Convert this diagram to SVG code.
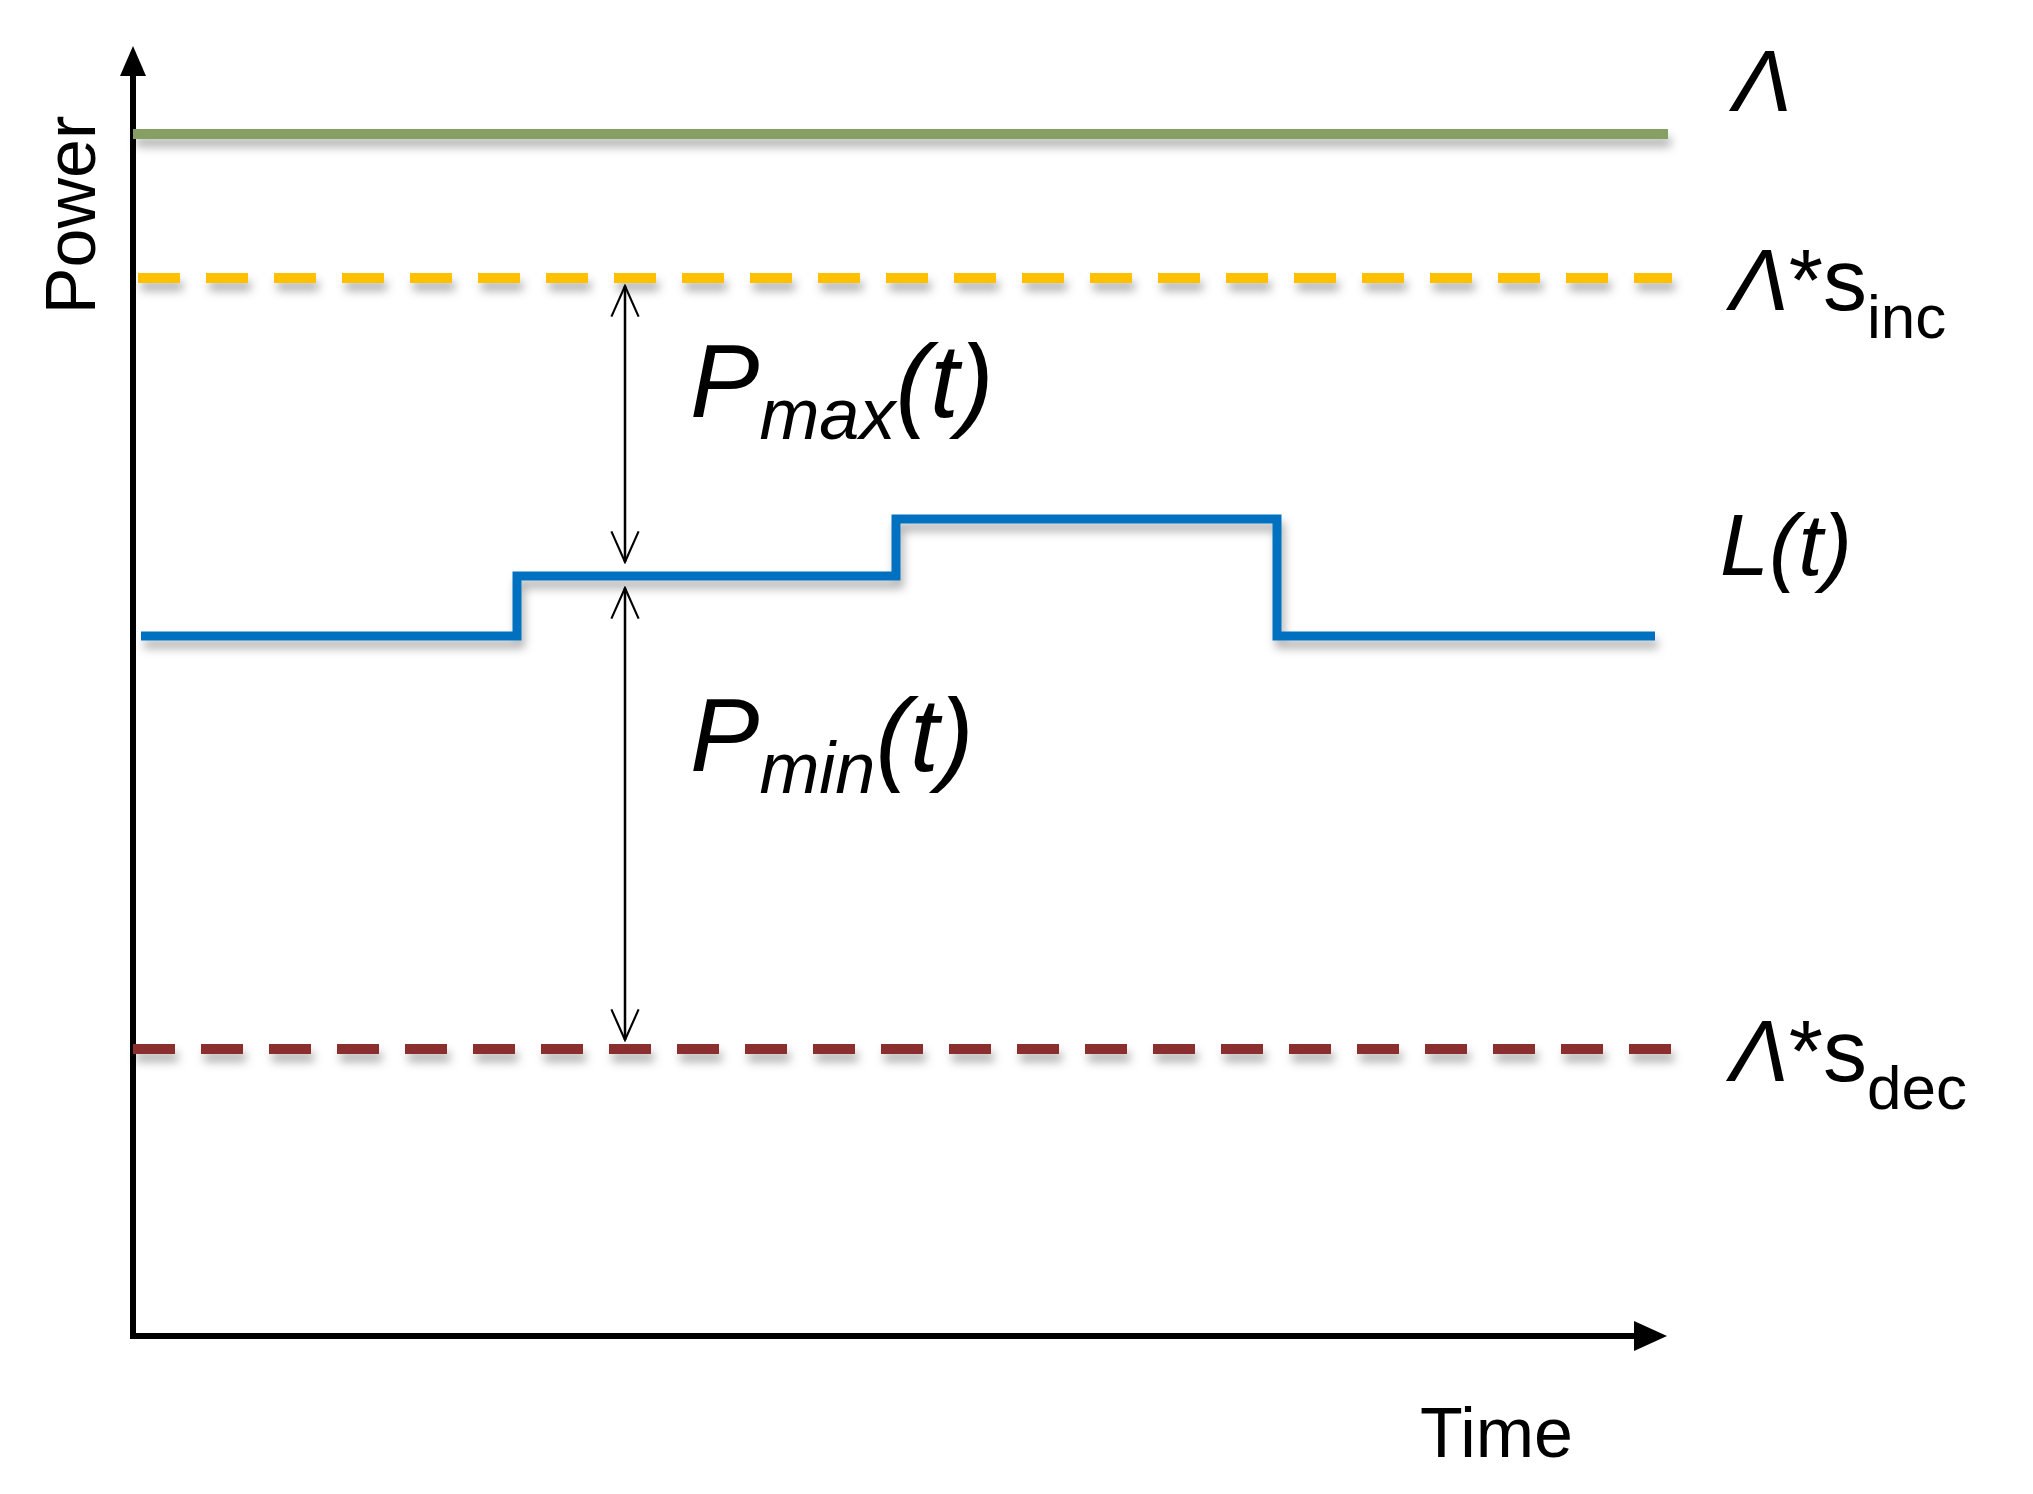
<svg xmlns="http://www.w3.org/2000/svg" width="2033" height="1494" viewBox="0 0 2033 1494">
<defs>
<filter id="sh" x="-5%" y="-200%" width="110%" height="500%"><feDropShadow dx="3" dy="8" stdDeviation="5" flood-color="#000" flood-opacity="0.3"/></filter>
<marker id="oa" markerWidth="34" markerHeight="40" refX="38" refY="20" orient="auto-start-reverse" markerUnits="userSpaceOnUse" viewBox="0 0 40 40"><path d="M2,4 L38,20 L2,36" fill="none" stroke="#000" stroke-width="2.5"/></marker>
</defs>
<style>
text{font-family:"Liberation Sans",Arial,sans-serif;fill:#000}
.it{font-style:italic}
.lab{font-size:88px}
.p{font-size:104px}
</style>
<rect width="2033" height="1494" fill="#fff"/>
<g id="axes">
<path d="M133,1336 V70" stroke="#000" stroke-width="6" fill="none"/>
<path d="M133,46 L120,76 H146 Z" fill="#000"/>
<path d="M130,1336 H1640" stroke="#000" stroke-width="6" fill="none"/>
<path d="M1667,1336 L1634,1321 V1351 Z" fill="#000"/>
<text x="95" y="215" font-size="70" text-anchor="middle" transform="rotate(-90 95 215)">Power</text>
<text x="1420" y="1457" font-size="70">Time</text>
</g>
<g id="lines" filter="url(#sh)">
<path d="M133,134 H1668" stroke="#86a064" stroke-width="10" fill="none"/>
<path d="M138,278 H1672" stroke="#ffc000" stroke-width="10" stroke-dasharray="42 26" fill="none"/>
<path d="M133,1049 H1672" stroke="#8b2e2e" stroke-width="10" stroke-dasharray="42 26" fill="none"/>
<path d="M141,636 H517 V576 H896 V519 H1277 V636 H1655" stroke="#0070c0" stroke-width="9" fill="none"/>
</g>
<g id="connectors">
<path d="M625,286 V562" stroke="#000" stroke-width="2.5" fill="none" marker-start="url(#oa)" marker-end="url(#oa)"/>
<path d="M625,588 V1040" stroke="#000" stroke-width="2.5" fill="none" marker-start="url(#oa)" marker-end="url(#oa)"/>
</g>
<g id="labels">
<text x="1733" y="111" class="lab it">Λ</text>
<text x="1730" y="310" class="lab"><tspan class="it">Λ</tspan>*s<tspan font-size="62" dy="28">inc</tspan></text>
<text x="1720" y="575" class="lab it">L(t)</text>
<text x="1730" y="1081" class="lab"><tspan class="it">Λ</tspan>*s<tspan font-size="62" dy="28">dec</tspan></text>
<text x="690" y="417" class="p it">P<tspan font-size="72" dy="22">max</tspan><tspan dy="-22">(t)</tspan></text>
<text x="690" y="771" class="p it">P<tspan font-size="72" dy="22">min</tspan><tspan dy="-22">(t)</tspan></text>
</g>
</svg>
